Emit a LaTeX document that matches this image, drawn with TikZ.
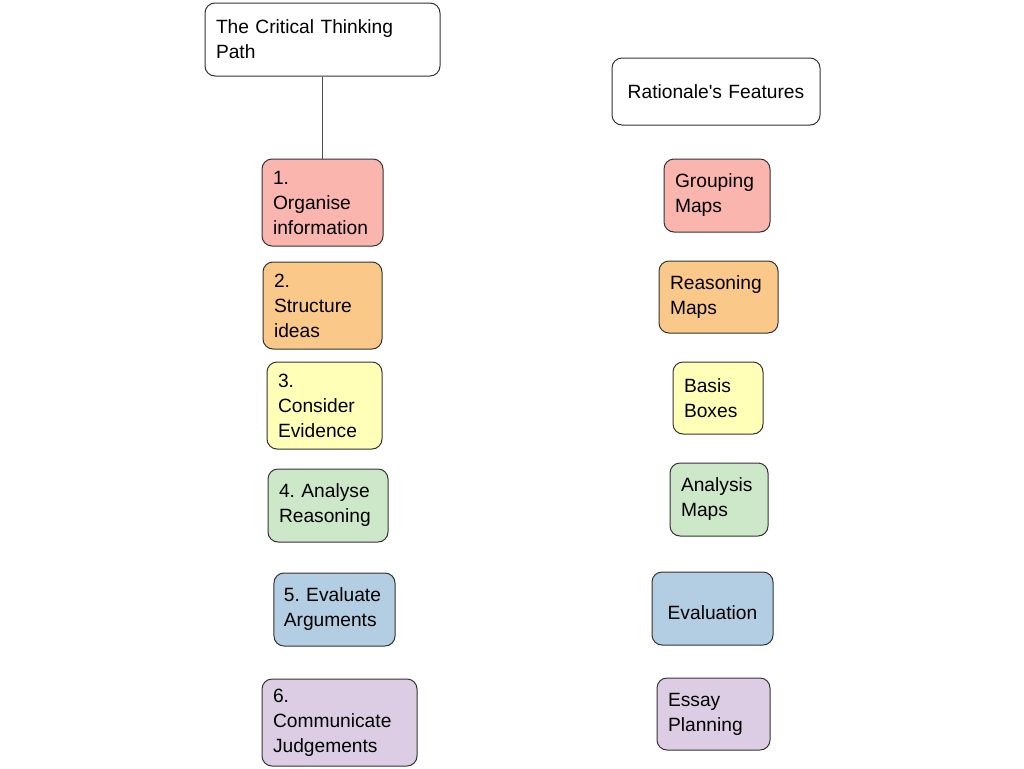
\documentclass[tikz,border=0pt]{standalone}
\usepackage{fontspec}
\newfontfamily\boxfont{Liberation Sans}
\usepackage{xcolor}
\definecolor{pathred}{HTML}{F9B5AE}
\definecolor{pathorange}{HTML}{FAC98A}
\definecolor{pathyellow}{HTML}{FFFFB8}
\definecolor{pathgreen}{HTML}{CCE8C8}
\definecolor{pathblue}{HTML}{B3CDE2}
\definecolor{pathpurple}{HTML}{DCCDE5}
\begin{document}
\begin{tikzpicture}[x=0.75pt,y=-0.75pt,
  box/.style={draw=black!80, line width=0.75pt, rounded corners=7.5pt,
    inner xsep=8.25pt, inner ysep=0pt, align=left,
    font=\boxfont\fontsize{14.4}{18.75}\selectfont\frenchspacing},
  head/.style={box, fill=white}]
\useasboundingbox (0,0) rectangle (1024,768);
% headings
\node [head, text width=159.75pt, minimum height=54.75pt] (path) at (322.5,39.5) {The Critical Thinking\\Path};
\node [head, align=center, text width=139.5pt, minimum height=50.25pt] (rationale) at (716,91.5) {Rationale's Features};
% the six steps
\node [box, fill=pathred, text width=74.25pt, minimum height=65.25pt] (step1) at (322.5,202.5) {1.\\Organise\\information};
\node [box, fill=pathorange, text width=72.75pt, minimum height=65.25pt] (step2) at (322.5,305.5) {2.\\Structure\\ideas};
\node [box, fill=pathyellow, text width=69.75pt, minimum height=65.25pt] (step3) at (324.5,405.5) {3.\\Consider\\Evidence};
\node [box, fill=pathgreen, text width=73.5pt, minimum height=54.75pt] (step4) at (328,505.5) {4. Analyse\\Reasoning};
\node [box, fill=pathblue, inner xsep=7.4pt, text width=76pt, minimum height=54.75pt] (step5) at (334.5,609.5) {5. Evaluate\\Arguments};
\node [box, fill=pathpurple, text width=99.75pt, minimum height=65.25pt] (step6) at (339.5,722.5) {6.\\Communicate\\Judgements};
% the features
\node [box, fill=pathred, text width=63pt, minimum height=54.75pt] (feat1) at (717,195.5) {Grouping\\Maps};
\node [box, fill=pathorange, text width=72.75pt, minimum height=54pt] (feat2) at (718.5,297) {Reasoning\\Maps};
\node [box, fill=pathyellow, text width=51pt, minimum height=54pt] (feat3) at (718,398) {Basis\\Boxes};
\node [box, fill=pathgreen, text width=57pt, minimum height=54.75pt] (feat4) at (719,499.5) {Analysis\\Maps};
\node [box, fill=pathblue, align=center, text width=74.25pt, text height=17pt, text depth=0pt, minimum height=54.75pt] (feat5) at (712.5,608.5) {Evaluation};
\node [box, fill=pathpurple, text width=68.25pt, minimum height=54pt] (feat6) at (713.5,714) {Essay\\Planning};
\draw [black!70, line width=0.75pt] (path) -- (step1);
\end{tikzpicture}
\end{document}
